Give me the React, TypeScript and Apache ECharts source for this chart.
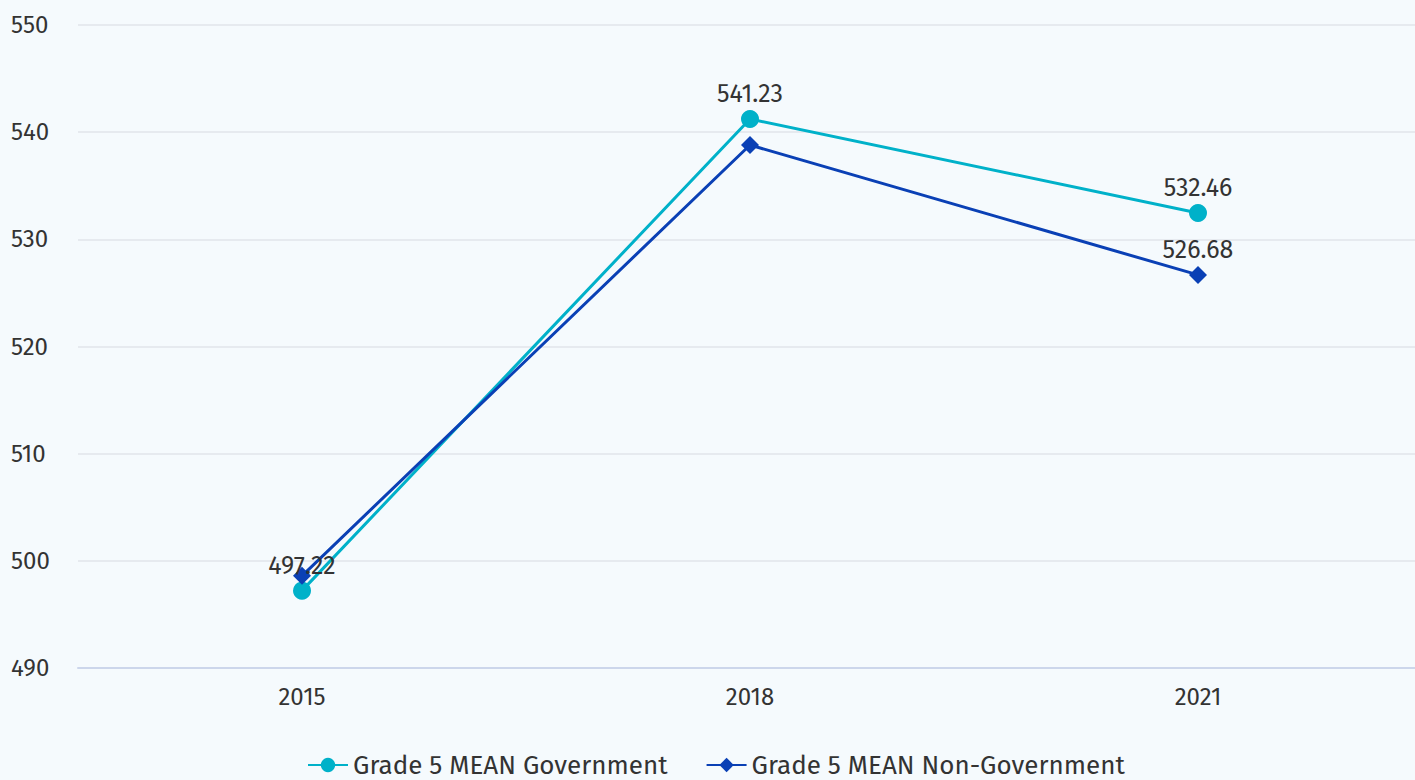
import React, { useEffect, useRef } from "react";
import * as echarts from "echarts";

const years = ["2015", "2018", "2021"];
const government = [497.22, 541.23, 532.46];
const nonGovernment = [498.6, 538.8, 526.68];
const govLabelShown = [true, true, true];
const nonGovLabelShown = [false, false, true];
const yTicks = { min: 490, max: 550, interval: 10 };

export default function App() {
  const ref = useRef<HTMLDivElement>(null);
  useEffect(() => {
    const chart = echarts.init(ref.current!, null, { renderer: "svg" });
    const font = "'Fira Sans', 'Noto Sans', 'Open Sans', sans-serif";
    const mk = (vals: number[], shown: boolean[]) =>
      vals.map((v, i) => ({ value: v, label: { show: shown[i] } }));
    chart.setOption({
      animation: false,
      backgroundColor: "#f5fafd",
      textStyle: { fontFamily: font },
      grid: { left: 78, right: 0, top: 25, bottom: 112 },
      legend: {
        bottom: -3,
        left: 302,
        itemWidth: 40,
        itemHeight: 18,
        itemGap: 38,
        textStyle: { fontSize: 26, color: "#333", fontFamily: font },
      },
      xAxis: {
        type: "category",
        data: years,
        axisTick: { show: false },
        axisLine: { lineStyle: { color: "#ccd6eb", width: 2 } },
        axisLabel: { fontSize: 24, color: "#333", margin: 17, fontFamily: font },
      },
      yAxis: {
        type: "value",
        min: yTicks.min,
        max: yTicks.max,
        interval: yTicks.interval,
        axisLabel: { fontSize: 24, color: "#333", margin: 67, align: "left", fontFamily: font, verticalAlign: "middle" },
        splitLine: { lineStyle: { color: "#e0e4ea", width: 1.5 } },
      },
      series: [
        {
          name: "Grade 5 MEAN Government",
          type: "line",
          data: mk(government, govLabelShown),
          symbol: "circle",
          symbolSize: 18,
          color: "#00b1c9",
          lineStyle: { width: 3 },
          label: { position: "top", fontSize: 25, color: "#333", distance: 3, fontFamily: font },
        },
        {
          name: "Grade 5 MEAN Non-Government",
          type: "line",
          data: mk(nonGovernment, nonGovLabelShown),
          symbol: "diamond",
          symbolSize: 18,
          color: "#0a40b5",
          lineStyle: { width: 3 },
          label: { position: "top", fontSize: 25, color: "#333", distance: 3, fontFamily: font },
        },
      ],
    });
    return () => chart.dispose();
  }, []);
  return (
    <div style={{ position: "absolute", left: 0, top: 0, width: 1415, height: 780, overflow: "hidden" }}>
      <div ref={ref} style={{ width: 1422, height: 780 }} />
    </div>
  );
}
